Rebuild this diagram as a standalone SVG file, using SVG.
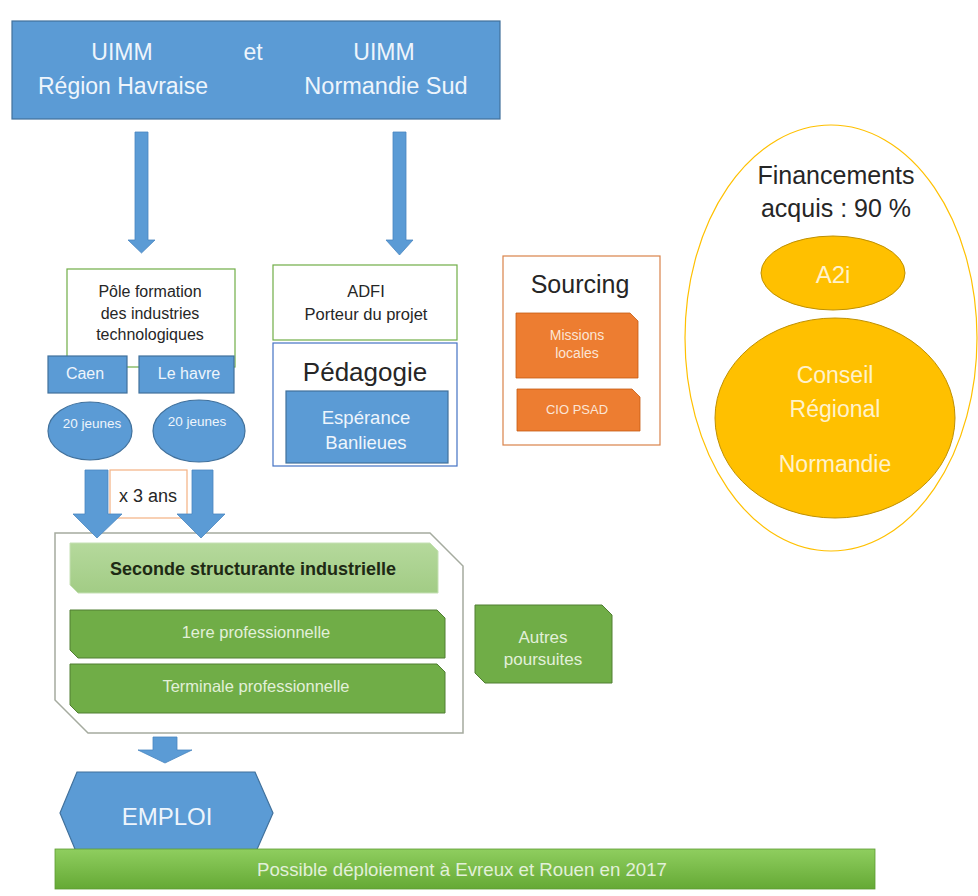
<svg xmlns="http://www.w3.org/2000/svg" width="978" height="896" viewBox="0 0 978 896">
<defs>
<style>
text{font-family:"Liberation Sans","DejaVu Sans",sans-serif;text-anchor:middle}
.blue{fill:#5b9bd5;stroke:#41719c;stroke-width:1.2}
.arrow{fill:#5b9bd5;stroke:#4a86c0;stroke-width:0.8}
.lt{fill:#eef5fc}
.dk{fill:#262626}
.gbox{fill:#70ad47;stroke:#507e32;stroke-width:1}
.gt{fill:#e2f0d9}
.obox{fill:#ed7d31;stroke:#c55a11;stroke-width:0.8}
.ot{fill:#fbe5d6}
.yel{fill:#ffc000;stroke:#bf9000;stroke-width:1}
.yt{fill:#fff2cc}
</style>
<linearGradient id="gbar" x1="0" y1="0" x2="0" y2="1">
<stop offset="0" stop-color="#8fce5f"/>
<stop offset="1" stop-color="#65a935"/>
</linearGradient>
<linearGradient id="lg" x1="0" y1="0" x2="0" y2="1">
<stop offset="0" stop-color="#b5d99c"/>
<stop offset="1" stop-color="#a2cc85"/>
</linearGradient>
</defs>

<g id="uimm">
<rect class="blue" x="12" y="21" width="488" height="98"/>
<text class="lt" x="122" y="60" font-size="23">UIMM</text>
<text class="lt" x="123" y="94" font-size="23">Région Havraise</text>
<text class="lt" x="253" y="60" font-size="23">et</text>
<text class="lt" x="384" y="60" font-size="23">UIMM</text>
<text class="lt" x="386" y="94" font-size="23.5">Normandie Sud</text>
</g>

<g id="pole">
<rect x="67" y="269" width="168" height="98" fill="#fff" stroke="#70ad47" stroke-width="1.2"/>
<text class="dk" x="150" y="297" font-size="16">Pôle formation</text>
<text class="dk" x="150" y="319" font-size="16">des industries</text>
<text class="dk" x="150" y="340" font-size="16">technologiques</text>
</g>
<g id="caen">
<rect class="blue" x="48" y="356" width="79" height="37"/>
<text class="lt" x="85" y="379" font-size="16">Caen</text>
</g>
<g id="lehavre">
<rect class="blue" x="139" y="356" width="95" height="37"/>
<text class="lt" x="189" y="379" font-size="16">Le havre</text>
</g>
<g id="jeunes1">
<ellipse class="blue" cx="90" cy="431" rx="42" ry="29"/>
<text class="lt" x="92" y="428" font-size="13.5">20 jeunes</text>
</g>
<g id="jeunes2">
<ellipse class="blue" cx="199" cy="431" rx="46" ry="31"/>
<text class="lt" x="197" y="426" font-size="13.5">20 jeunes</text>
</g>

<g id="x3ans">
<rect x="110" y="470" width="77" height="48" fill="#fff" stroke="#f4b183" stroke-width="1.2"/>
<text class="dk" x="148" y="502" font-size="18">x 3 ans</text>
</g>

<g id="adfi">
<rect x="273" y="265" width="184" height="75" fill="#fff" stroke="#70ad47" stroke-width="1.2"/>
<text class="dk" x="366" y="297" font-size="16.5">ADFI</text>
<text class="dk" x="366" y="320" font-size="16.5">Porteur du projet</text>
</g>

<g id="pedagogie">
<rect x="273" y="343" width="184" height="123" fill="#fff" stroke="#4472c4" stroke-width="1.2"/>
<text class="dk" x="365" y="381" font-size="26">Pédagogie</text>
</g>
<g id="esperance">
<rect class="blue" x="286" y="391" width="162" height="72"/>
<text class="lt" x="366" y="424" font-size="18.5">Espérance</text>
<text class="lt" x="366" y="449" font-size="18.5">Banlieues</text>
</g>

<g id="sourcing">
<rect x="503" y="256" width="157" height="189" fill="#fff" stroke="#d9834a" stroke-width="1.2"/>
<text class="dk" x="580" y="293" font-size="25">Sourcing</text>
</g>
<g id="missions">
<path class="obox" d="M516,313 H630 L638,321 V378 H516 Z"/>
<text class="ot" x="577" y="340" font-size="14">Missions</text>
<text class="ot" x="577" y="358" font-size="14">locales</text>
</g>
<g id="ciopsad">
<path class="obox" d="M517,389 H632 L640,397 V431 H517 Z"/>
<text class="ot" x="577" y="414" font-size="13">CIO PSAD</text>
</g>

<g id="financements">
<ellipse cx="831" cy="338" rx="146" ry="213" fill="#fff" stroke="#ffc000" stroke-width="1.2"/>
<text class="dk" x="836" y="184" font-size="25">Financements</text>
<text class="dk" x="836" y="217" font-size="25">acquis : 90 %</text>
</g>
<g id="a2i">
<ellipse class="yel" cx="833" cy="273" rx="72" ry="37"/>
<text class="yt" x="833" y="283" font-size="24">A2i</text>
</g>
<g id="conseil">
<ellipse class="yel" cx="835" cy="418" rx="120" ry="100"/>
<text class="yt" x="835" y="383" font-size="23">Conseil</text>
<text class="yt" x="835" y="417" font-size="23">Régional</text>
<text class="yt" x="835" y="472" font-size="23">Normandie</text>
</g>

<g id="parcours">
<path d="M55,533 H430 L463,566 V733 H88 L55,700 Z" fill="#fff" stroke="#a5ab9f" stroke-width="1.5"/>
</g>
<g id="seconde">
<path d="M70,543 H430 L438,551 V593 H78 L70,585 Z" fill="url(#lg)" stroke="#c5e0b4" stroke-width="1"/>
<text x="253" y="575" font-size="18" font-weight="bold" fill="#1e2a14">Seconde structurante industrielle</text>
</g>
<g id="premiere">
<path class="gbox" d="M70,610 H437 L445,618 V658 H78 L70,650 Z"/>
<text class="gt" x="256" y="638" font-size="16.5">1ere professionnelle</text>
</g>
<g id="terminale">
<path class="gbox" d="M70,664 H437 L445,672 V713 H78 L70,705 Z"/>
<text class="gt" x="256" y="692" font-size="16.5">Terminale professionnelle</text>
</g>
<g id="autres">
<path class="gbox" d="M475,605 H602 L612,615 V683 H485 L475,673 Z"/>
<text class="gt" x="543" y="643" font-size="17">Autres</text>
<text class="gt" x="543" y="665" font-size="17">poursuites</text>
</g>

<g id="emploi">
<path class="blue" d="M77,772 H255 L273,813 L255,854 H77 L60,813 Z"/>
<text class="lt" x="167" y="825" font-size="24">EMPLOI</text>
</g>

<g id="deploiement">
<rect x="55" y="849" width="820" height="40" fill="url(#gbar)" stroke="#5e9c34" stroke-width="0.8"/>
<text class="gt" x="462" y="876" font-size="18" textLength="410" lengthAdjust="spacingAndGlyphs">Possible déploiement à Evreux et Rouen en 2017</text>
</g>

<g id="connectors">
<path class="arrow" d="M135,132 H148 V240 H155 L141.5,253 L128,240 H135 Z"/>
<path class="arrow" d="M393,132 H406 V240 H413 L399.5,255 L386,240 H393 Z"/>
<path class="arrow" d="M85,470 H108 V514 H122 L97,538 L73,514 H85 Z"/>
<path class="arrow" d="M192,470 H213 V514 H225 L201,538 L177,514 H192 Z"/>
<path class="arrow" d="M153,737 H177 V750 H192 L165,763 L138,750 H153 Z"/>
</g>
</svg>
